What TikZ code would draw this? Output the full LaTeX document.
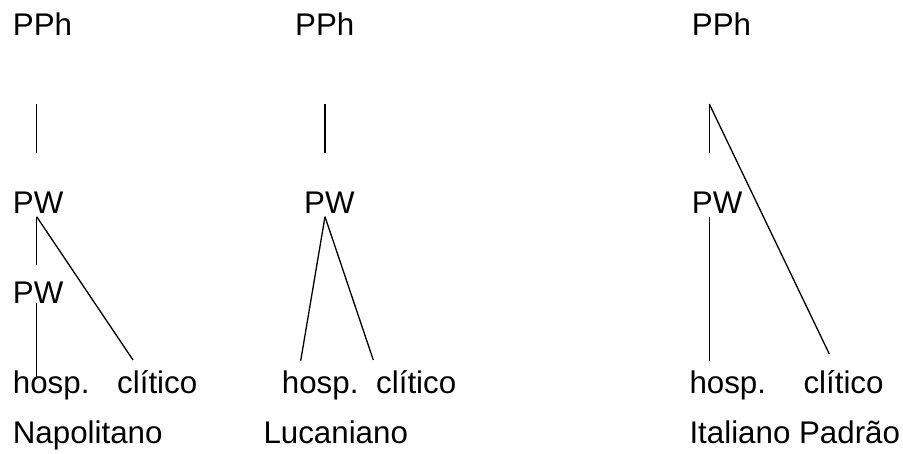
\documentclass[tikz,border=0pt]{standalone}
\usepackage{fontspec}
\setmainfont{Liberation Sans}
\usepackage{tikz}

\begin{document}
\begin{tikzpicture}[x=1pt,y=-1pt,
  lbl/.style={anchor=base west,inner sep=0pt,font=\fontsize{31.3}{37}\selectfont},
  ramo/.style={-,line width=1.3pt}]
            \useasboundingbox (0,0) rectangle (903,453);
            % Napolitano
            \node[lbl] (A) at (12.7,35) {PPh};
            \node[lbl] (B) at (12.7,213) {PW};
            \node[lbl] (C) at (12.7,303) {PW};
            \node[lbl] (D) at (12.7,393) {hosp.};
            \node[lbl] (E) at (117,393) {clítico};
            \node[lbl] (F) at (12.7,443) {Napolitano};
            \coordinate (A1) at (36.7,104);
            \coordinate (A2) at (36.7,153);
            \coordinate (B1) at (36.7,216.7);
            \coordinate (B2) at (36.7,265);
            \coordinate (C1) at (36.7,303);
            \coordinate (D1) at (36.7,377);
            \coordinate (E1) at (133,360);
            \path[ramo] (A1) edge (A2);
            \path[ramo] (B1) edge (B2);
            \path[ramo] (B1) edge (E1);
            \path[ramo] (C1) edge (D1);
            % Lucaniano
            \node[lbl] (G) at (295,35) {PPh};
            \node[lbl] (H) at (304,213) {PW};
            \node[lbl] (I) at (281.7,393) {hosp.};
            \node[lbl] (J) at (376,393) {clítico};
            \node[lbl] (K) at (263.3,443) {Lucaniano};
            \coordinate (G1) at (325,104);
            \coordinate (G2) at (325,153);
            \coordinate (H1) at (325,216.7);
            \coordinate (I1) at (300.7,360.7);
            \coordinate (J1) at (373.3,360);
            \path[ramo] (G1) edge (G2);
            \path[ramo] (H1) edge (I1);
            \path[ramo] (H1) edge (J1);
            % Italiano Padrao
            \node[lbl] (L) at (691.7,35) {PPh};
            \node[lbl] (M) at (691.7,213) {PW};
            \node[lbl] (N) at (689.3,393) {hosp.};
            \node[lbl] (O) at (803.3,393) {clítico};
            \node[lbl] (P) at (689.3,443) {Italiano Padrão};
            \coordinate (L1) at (709.3,104);
            \coordinate (L2) at (709.3,153);
            \coordinate (M1) at (709.3,216.7);
            \coordinate (N1) at (709.3,360.7);
            \coordinate (O1) at (829.3,354);
            \path[ramo] (L1) edge (L2);
            \path[ramo] (L1) edge (O1);
            \path[ramo] (M1) edge (N1);
        \end{tikzpicture}
\end{document}
